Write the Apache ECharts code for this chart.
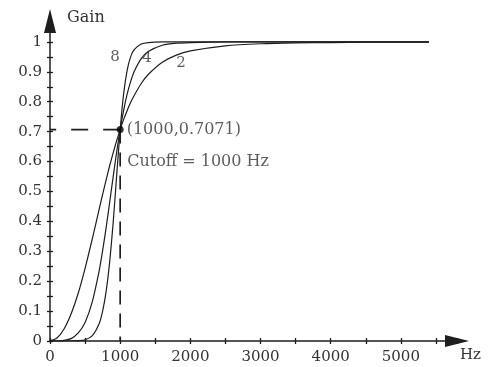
<!DOCTYPE html>
<html>
<head>
<meta charset="utf-8">
<script src="https://cdn.jsdelivr.net/npm/echarts@6/dist/echarts.min.js"></script>
<style>
  html, body { margin: 0; padding: 0; background: #fff; }
  #chart { width: 488px; height: 367px; }
</style>
</head>
<body>
<div id="chart"></div>
<script>
// Butterworth high-pass gain for orders 2, 4 and 8 (cutoff 1000 Hz)
const freq  = [0, 100, 200, 300, 400, 500, 600, 700, 750, 800, 850, 900, 950, 1000, 1050,
               1100, 1150, 1200, 1300, 1400, 1600, 1800, 2000, 2500, 3000, 3500, 4000, 4500, 5000, 5400];
const gain2 = [0, 0.010, 0.040, 0.090, 0.158, 0.243, 0.339, 0.440, 0.490, 0.539, 0.586, 0.629, 0.670, 0.707, 0.741,
               0.771, 0.798, 0.821, 0.861, 0.891, 0.932, 0.956, 0.970, 0.987, 0.994, 0.997, 0.998, 0.999, 0.999, 0.999];
const gain4 = [0, 0, 0.002, 0.008, 0.026, 0.062, 0.129, 0.234, 0.302, 0.379, 0.463, 0.549, 0.632, 0.707, 0.772,
               0.826, 0.868, 0.901, 0.944, 0.968, 0.989, 0.996, 0.998, 1.000, 1.000, 1.000, 1.000, 1.000, 1.000, 1.000];
const gain8 = [0, 0, 0, 0, 0.001, 0.004, 0.017, 0.058, 0.100, 0.166, 0.263, 0.395, 0.553, 0.707, 0.828,
               0.906, 0.951, 0.974, 0.993, 0.998, 1.000, 1.000, 1.000, 1.000, 1.000, 1.000, 1.000, 1.000, 1.000, 1.000];

const orderLabels = ['8', '4', '2'];
const orderLabelPos = [[926, 0.949], [1382, 0.946], [1866, 0.929]];

const cutoffPoint = [1000, 0.7071];
const cutoffText = 'Cutoff = 1000 Hz';
const cutoffTextPos = [1000, 0.60];

const xTickStep = 500, xLabelStep = 1000, xMax = 5800;
const yTickStep = 0.05, yMax = 1.07;

const FONT = 'DejaVu Serif';
const INK = '#1e1e1e';
const TEXT = '#333';

const pairs = (ys) => freq.map((f, i) => [f, ys[i]]);

const curve = (ys) => ({
  type: 'line',
  data: pairs(ys),
  showSymbol: false,
  smooth: 0.2,
  lineStyle: { color: INK, width: 1.2 },
  silent: true,
  z: 3
});

const baseX = {
  type: 'value', min: 0, max: xMax, interval: xTickStep,
  splitLine: { show: false }
};
const baseY = {
  type: 'value', min: 0, max: yMax, interval: yTickStep,
  splitLine: { show: false }
};

const chart = echarts.init(document.getElementById('chart'), null, { renderer: 'canvas' });
chart.setOption({
  animation: false,
  backgroundColor: '#fff',
  grid: { left: 50, right: 31, top: 21, bottom: 26, containLabel: false },
  xAxis: [
    Object.assign({}, baseX, {
      name: 'Hz',
      nameLocation: 'end',
      nameGap: 3,
      nameTextStyle: { fontFamily: FONT, fontSize: 15, color: TEXT, align: 'left', verticalAlign: 'top', padding: [7, 0, 0, 0] },
      axisLine: { lineStyle: { color: INK, width: 1.5 }, symbol: ['none', 'triangle'], symbolSize: [12, 24], symbolOffset: [0, 0] },
      axisTick: { show: true, length: 3, lineStyle: { color: INK, width: 1.3 } },
      axisLabel: {
        fontFamily: FONT, fontSize: 15, color: TEXT, margin: 9,
        formatter: (v) => (v % xLabelStep === 0 && v <= 5000) ? String(v) : ''
      }
    }),
    Object.assign({}, baseX, {
      position: 'bottom',
      axisLine: { show: false },
      axisTick: { show: true, inside: true, length: 3, lineStyle: { color: INK, width: 1.3 } },
      axisLabel: { show: false }
    })
  ],
  yAxis: [
    Object.assign({}, baseY, {
      name: 'Gain',
      nameLocation: 'end',
      nameGap: 3,
      nameTextStyle: { fontFamily: FONT, fontSize: 16, color: TEXT, align: 'left', verticalAlign: 'middle', padding: [0, 0, 0, 17] },
      axisLine: { lineStyle: { color: INK, width: 1.5 }, symbol: ['none', 'triangle'], symbolSize: [12, 24], symbolOffset: [0, 0] },
      axisTick: { show: true, length: 3, lineStyle: { color: INK, width: 1.3 } },
      axisLabel: {
        fontFamily: FONT, fontSize: 15, color: TEXT, margin: 8,
        formatter: (v) => {
          const k = Math.round(v * 100);
          return (k % 10 === 0 && v <= 1.0001) ? String(k / 100) : '';
        }
      }
    }),
    Object.assign({}, baseY, {
      position: 'left',
      axisLine: { show: false },
      axisTick: { show: true, inside: true, length: 3, lineStyle: { color: INK, width: 1.3 } },
      axisLabel: { show: false }
    })
  ],
  series: [
    curve(gain2),
    curve(gain4),
    curve(gain8),
    {
      // dashed guides from the cutoff point to both axes
      type: 'line',
      data: [cutoffPoint, [0, cutoffPoint[1]]],
      showSymbol: false,
      lineStyle: { color: INK, width: 1.7, type: [17, 15] },
      silent: true, z: 2
    },
    {
      type: 'line',
      data: [cutoffPoint, [cutoffPoint[0], 0]],
      showSymbol: false,
      lineStyle: { color: INK, width: 1.7, type: [14, 9] },
      silent: true, z: 2
    },
    {
      type: 'scatter',
      data: [cutoffPoint],
      symbolSize: 7,
      itemStyle: { color: '#000' },
      label: {
        show: true, position: 'right', distance: 3,
        fontFamily: FONT, fontSize: 16, color: TEXT,
        formatter: (p) => '(' + p.value[0] + ',' + p.value[1] + ')'
      },
      silent: true, z: 5
    },
    {
      type: 'scatter',
      data: [cutoffTextPos],
      symbolSize: 0,
      label: {
        show: true, position: 'right', distance: 7,
        fontFamily: FONT, fontSize: 16, color: TEXT,
        formatter: () => cutoffText
      },
      silent: true, z: 5
    },
    {
      type: 'scatter',
      data: orderLabelPos.map((p, i) => ({ value: p, name: orderLabels[i] })),
      symbolSize: 0,
      label: {
        show: true, position: 'inside',
        fontFamily: FONT, fontSize: 15, color: TEXT,
        formatter: (p) => p.name
      },
      silent: true, z: 5
    }
  ]
});
</script>
</body>
</html>
